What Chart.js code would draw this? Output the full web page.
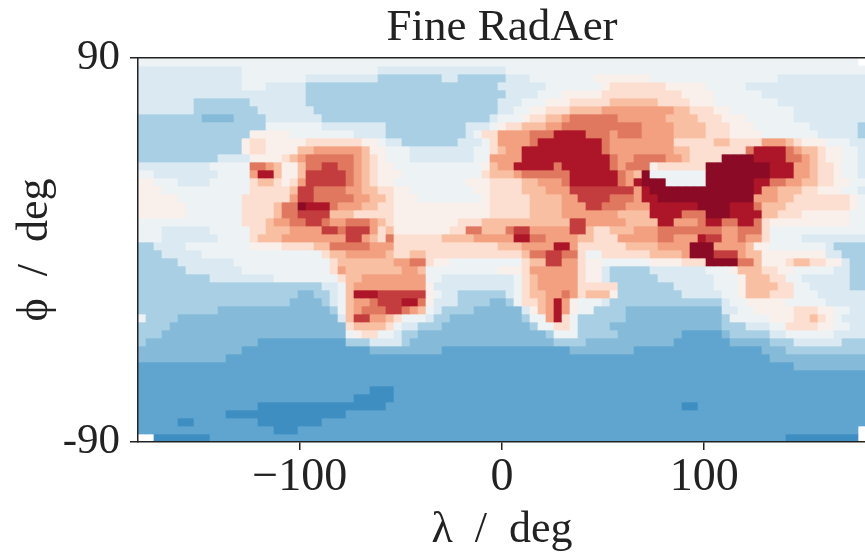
<!DOCTYPE html>
<html>
<head>
<meta charset="utf-8">
<title>Fine RadAer</title>
<script src="https://cdn.jsdelivr.net/npm/chart.js@4"></script>
<style>
  html, body { margin: 0; padding: 0; background: #fff; overflow: hidden; }
  canvas { display: block; }
</style>
</head>
<body>
<canvas id="fieldChart" width="880" height="554"></canvas>
<script>
const lonTicks = [-100, 0, 100];
const latTicks = [-90, 90];
const nLon = 91;
const nLat = 48;

// colour class of each cell, top row first, as "class:lastColumn" runs. w = no data
const rowRuns = [
  "5:89 w:90",
  "4:12 5:29 4:45 5:90",
  "4:12 5:20 4:29 3:37 4:39 3:45 4:48 5:56 6:63 5:79 4:90",
  "4:12 5:15 4:20 3:44 4:50 5:57 6:58 7:65 6:70 5:75 4:90",
  "4:20 3:45 4:49 5:52 6:57 7:67 6:71 5:77 4:90",
  "4:6 3:13 4:20 3:44 4:47 5:50 6:53 7:58 8:64 7:68 6:71 5:79 4:90",
  "4:6 3:14 4:21 3:44 4:46 5:48 6:50 7:53 8:57 9:66 8:68 7:71 6:73 5:81 4:90",
  "3:7 2:11 3:15 4:22 3:43 4:44 5:47 6:48 7:50 8:52 9:53 a:59 9:65 8:69 7:72 6:75 5:81 4:90",
  "3:15 5:22 4:30 3:40 4:43 5:44 6:45 7:47 8:50 9:52 a:62 9:66 8:70 7:73 6:76 5:83 4:89 3:90",
  "3:13 6:18 5:26 4:30 3:40 4:41 5:42 7:44 9:48 a:51 c:55 a:58 9:59 a:62 9:66 8:70 7:73 6:77 5:84 4:89 3:90",
  "3:12 6:13 7:15 6:20 7:27 6:29 5:30 4:32 3:39 4:42 5:43 7:44 9:48 a:49 c:57 a:58 9:66 7:71 8:73 7:77 9:80 8:81 7:82 6:85 5:88 4:90",
  "3:12 6:13 7:15 6:19 8:21 9:27 8:28 6:30 5:33 4:41 5:43 7:44 8:45 9:47 c:57 a:58 9:66 8:68 7:75 a:76 c:80 a:81 9:82 8:84 7:85 6:87 5:89 4:90",
  "3:9 4:13 6:17 7:18 8:19 9:20 a:26 9:27 8:28 7:29 6:30 5:33 4:41 5:43 9:47 c:58 a:59 9:61 a:65 9:67 8:68 7:72 d:76 c:80 a:82 9:83 8:84 7:85 6:87 5:89 4:90",
  "4:8 5:13 a:15 9:16 8:17 6:19 8:20 a:22 b:24 a:26 9:27 8:28 7:29 6:31 5:42 6:43 8:44 9:46 c:51 a:52 c:58 a:59 9:60 a:63 6:64 7:70 d:78 c:81 9:83 8:84 7:86 6:87 5:89 4:90",
  "5:1 4:9 5:13 9:14 c:16 8:17 6:19 8:20 b:25 a:26 9:27 8:28 7:29 6:32 5:42 7:43 8:46 9:47 a:53 c:59 a:60 9:61 8:62 d:63 5:70 d:78 c:81 9:83 8:84 7:86 6:87 5:89 4:90",
  "6:1 5:4 4:8 5:13 7:14 8:16 7:17 6:18 7:19 9:20 b:25 a:26 9:27 8:28 7:29 6:31 5:40 6:43 7:47 8:49 9:52 a:53 c:59 a:60 9:61 c:62 d:65 5:70 d:76 c:78 a:80 9:82 8:84 7:86 6:88 5:90",
  "6:2 5:13 7:18 8:19 b:21 a:25 9:27 8:29 7:31 6:33 5:41 6:43 7:47 8:50 9:53 b:61 9:62 c:63 d:76 c:77 9:79 8:82 7:84 6:87 5:89 4:90",
  "6:4 5:12 7:18 9:19 b:21 a:26 9:28 8:30 7:31 6:34 5:42 6:43 7:48 8:52 9:54 b:58 a:61 9:62 c:64 d:76 9:79 8:81 7:88 6:89 5:90",
  "6:5 5:12 7:16 8:17 a:19 d:20 c:23 a:24 9:27 8:29 7:31 6:43 7:48 8:52 9:55 b:57 a:60 9:63 c:69 d:73 c:76 a:77 8:80 7:88 6:89 5:90",
  "6:5 5:12 7:16 8:17 a:19 b:23 8:26 7:31 6:43 7:48 8:52 9:59 8:63 c:67 a:70 d:73 c:77 8:79 7:82 6:88 5:90",
  "5:12 7:15 8:16 9:18 a:20 b:22 a:23 9:25 a:28 9:29 8:30 7:31 6:39 7:42 8:53 b:55 9:60 8:64 c:66 9:69 a:70 c:72 a:74 c:76 a:77 7:78 6:88 5:90",
  "5:2 4:8 5:13 7:15 8:18 9:22 b:24 a:25 b:28 9:29 7:30 8:31 6:38 7:40 a:42 8:45 a:46 b:48 9:53 b:55 8:56 7:58 8:61 9:64 a:72 9:74 a:77 7:78 5:90",
  "5:2 4:9 5:13 7:14 8:17 9:25 b:27 9:28 8:29 7:30 a:31 7:37 8:41 9:46 c:48 a:50 9:54 8:56 7:59 9:64 a:66 9:69 c:70 b:72 9:74 a:75 9:77 7:78 5:82 4:90",
  "3:1 4:5 5:13 6:17 7:21 8:23 a:28 9:31 7:44 8:47 9:51 c:53 9:54 7:60 8:64 9:68 d:71 9:75 8:76 6:78 5:85 4:86 3:90",
  "3:2 4:7 5:22 7:23 8:25 9:30 8:31 7:33 8:35 7:47 8:48 a:50 b:52 a:54 7:55 5:57 7:63 8:67 9:68 d:71 b:74 9:75 8:77 6:85 4:87 3:90",
  "3:4 4:11 5:23 7:24 8:31 9:33 a:35 7:36 6:38 5:47 7:48 8:50 b:52 9:54 7:55 6:57 5:63 6:67 7:70 d:74 a:76 8:77 6:80 7:81 8:83 7:85 6:87 4:88 3:90",
  "3:5 4:12 5:23 7:24 9:25 8:32 9:34 8:35 5:44 6:47 7:48 9:54 7:55 6:57 4:58 3:63 4:70 5:73 6:74 8:77 7:79 6:81 5:86 4:88 3:90",
  "3:8 4:16 5:24 7:25 8:27 9:35 5:37 4:46 5:47 7:48 8:49 9:54 7:55 6:57 4:58 3:64 4:71 5:74 6:75 8:78 7:80 5:82 4:88 3:90",
  "3:22 4:24 5:25 8:26 9:35 6:36 4:46 5:47 7:48 8:49 9:54 7:59 3:66 4:71 5:74 6:75 8:79 7:81 5:83 4:88 3:90",
  "3:19 2:21 3:23 4:24 5:25 8:26 c:29 b:35 6:36 5:37 4:39 3:45 4:46 5:47 7:48 8:50 9:52 a:53 9:54 7:55 8:58 6:59 3:67 4:72 5:74 6:75 8:78 7:81 5:84 4:90",
  "3:18 2:22 3:23 4:24 5:25 8:26 9:28 a:29 b:32 c:34 a:35 6:36 4:39 3:43 2:45 3:46 5:47 7:49 8:50 9:51 c:52 9:53 6:54 5:57 4:58 3:72 4:73 5:75 6:80 5:85 4:90",
  "3:9 2:23 3:24 5:25 8:26 9:27 a:30 b:32 a:33 9:34 8:35 5:36 4:37 3:41 2:47 4:48 6:49 8:50 9:51 c:52 9:53 6:54 5:56 3:60 2:72 4:74 5:76 6:81 7:84 6:86 5:88 4:90",
  "5:0 3:4 2:24 4:25 8:26 b:28 9:30 8:31 7:32 5:35 4:36 3:38 2:47 3:48 5:50 9:51 c:52 7:53 5:54 3:60 2:72 3:73 5:78 6:81 7:83 8:84 7:85 6:86 5:87 4:90",
  "3:3 2:25 7:26 8:30 7:31 5:32 4:34 3:37 2:48 3:49 5:51 7:53 5:54 3:58 2:72 3:75 4:78 5:80 7:84 6:86 5:88 4:90",
  "3:2 2:25 5:26 6:27 7:29 5:31 4:32 3:34 2:50 3:51 5:54 3:59 2:67 1:72 2:73 3:78 4:80 5:86 4:90",
  "3:0 2:14 1:25 3:28 4:32 3:33 2:51 3:55 2:66 1:73 2:78 3:81 4:87 3:90",
  "2:12 1:28 2:37 1:53 2:61 1:77 2:80 3:90",
  "2:10 1:78 2:90",
  "1:81 2:90",
  "1:90",
  "1:90",
  "1:28 0:31 1:90",
  "1:26 0:31 1:90",
  "1:14 0:30 1:67 0:69 1:90",
  "1:10 0:25 1:90",
  "1:4 0:6 1:14 0:22 1:90",
  "1:16 0:19 1:89 w:90",
  "w:1 0:8 1:80 0:89 w:90"
];

const classColors = {
  "0": "#3f8ec2", "1": "#60a5cf", "2": "#85bbd9", "3": "#a9cfe4", "4": "#dbe9f2", "5": "#edf2f5", "6": "#f9efeb",
  "7": "#fddfd1", "8": "#f8bfa3", "9": "#f2a07f", "a": "#e07860", "b": "#c33c3e", "c": "#ad1528", "d": "#8b0a25"
};

const textColor = "#222222";
const serif = "'Liberation Serif', serif";

function expandRuns(runs) {
  const cells = [];
  runs.split(" ").forEach(function (run) {
    const [cls, last] = run.split(":");
    while (cells.length <= Number(last)) cells.push(cls);
  });
  return cells;
}

const lonStep = 360 / nLon;
const latStep = 180 / nLat;

const datasets = rowRuns.map(function (runs, r) {
  const cells = expandRuns(runs);
  const top = 90 - r * latStep;
  return {
    data: cells.map(function (cls, c) {
      return {x: -180 + (c + 0.5) * lonStep, y: cls === "w" ? null : [top - latStep, top]};
    }),
    backgroundColor: cells.map(function (cls) { return classColors[cls] || "#ffffff"; }),
    borderWidth: 0,
    barThickness: 8,
    grouped: false
  };
});

function fixedTicks(values) {
  return function (axis) { axis.ticks = values.map(function (v) { return {value: v}; }); };
}

new Chart(document.getElementById("fieldChart"), {
  type: "bar",
  data: {datasets: datasets},
  options: {
    responsive: false,
    animation: false,
    layout: {padding: {right: 14}},
    plugins: {
      legend: {display: false},
      tooltip: {enabled: false},
      title: {
        display: true,
        fullSize: false,
        text: "Fine RadAer",
        color: textColor,
        font: {family: serif, size: 45, weight: "normal", lineHeight: 1},
        padding: {top: 6, bottom: 7}
      }
    },
    scales: {
      x: {
        type: "linear",
        position: "bottom",
        offset: false,
        min: -180,
        max: 180,
        afterBuildTicks: fixedTicks(lonTicks),
        afterFit: function (axis) { axis.height = 112; },
        grid: {offset: false, drawOnChartArea: false, color: textColor, lineWidth: 1.5, tickLength: 8},
        border: {color: textColor, width: 1.5, z: 1},
        ticks: {
          color: textColor,
          font: {family: serif, size: 46},
          padding: 0,
          maxRotation: 0,
          callback: function (v) { return v < 0 ? "\u2212" + Math.abs(v) : String(v); }
        },
        title: {
          display: true,
          text: "\u03bb  /  deg",
          color: textColor,
          font: {family: serif, size: 44, lineHeight: 1},
          padding: {top: 0, bottom: 2}
        }
      },
      xTop: {
        type: "linear",
        position: "top",
        offset: false,
        min: -180,
        max: 180,
        afterFit: function (axis) { axis.height = 0; },
        grid: {display: false},
        border: {display: true, color: textColor, width: 1.5, z: 1},
        ticks: {display: false}
      },
      y: {
        type: "linear",
        min: -90,
        max: 90,
        afterBuildTicks: fixedTicks(latTicks),
        afterFit: function (axis) { axis.width = 138; },
        grid: {drawOnChartArea: false, color: textColor, lineWidth: 1.5, tickLength: 8},
        border: {color: textColor, width: 1.5, z: 1},
        ticks: {
          color: textColor,
          font: {family: serif, size: 43},
          padding: 10,
          callback: function (v) { return String(v); }
        },
        title: {
          display: true,
          text: "\u03d5  /  deg",
          color: textColor,
          font: {family: serif, size: 44, lineHeight: 1},
          padding: {top: 13, bottom: 0}
        }
      }
    }
  }
});
</script>
</body>
</html>
